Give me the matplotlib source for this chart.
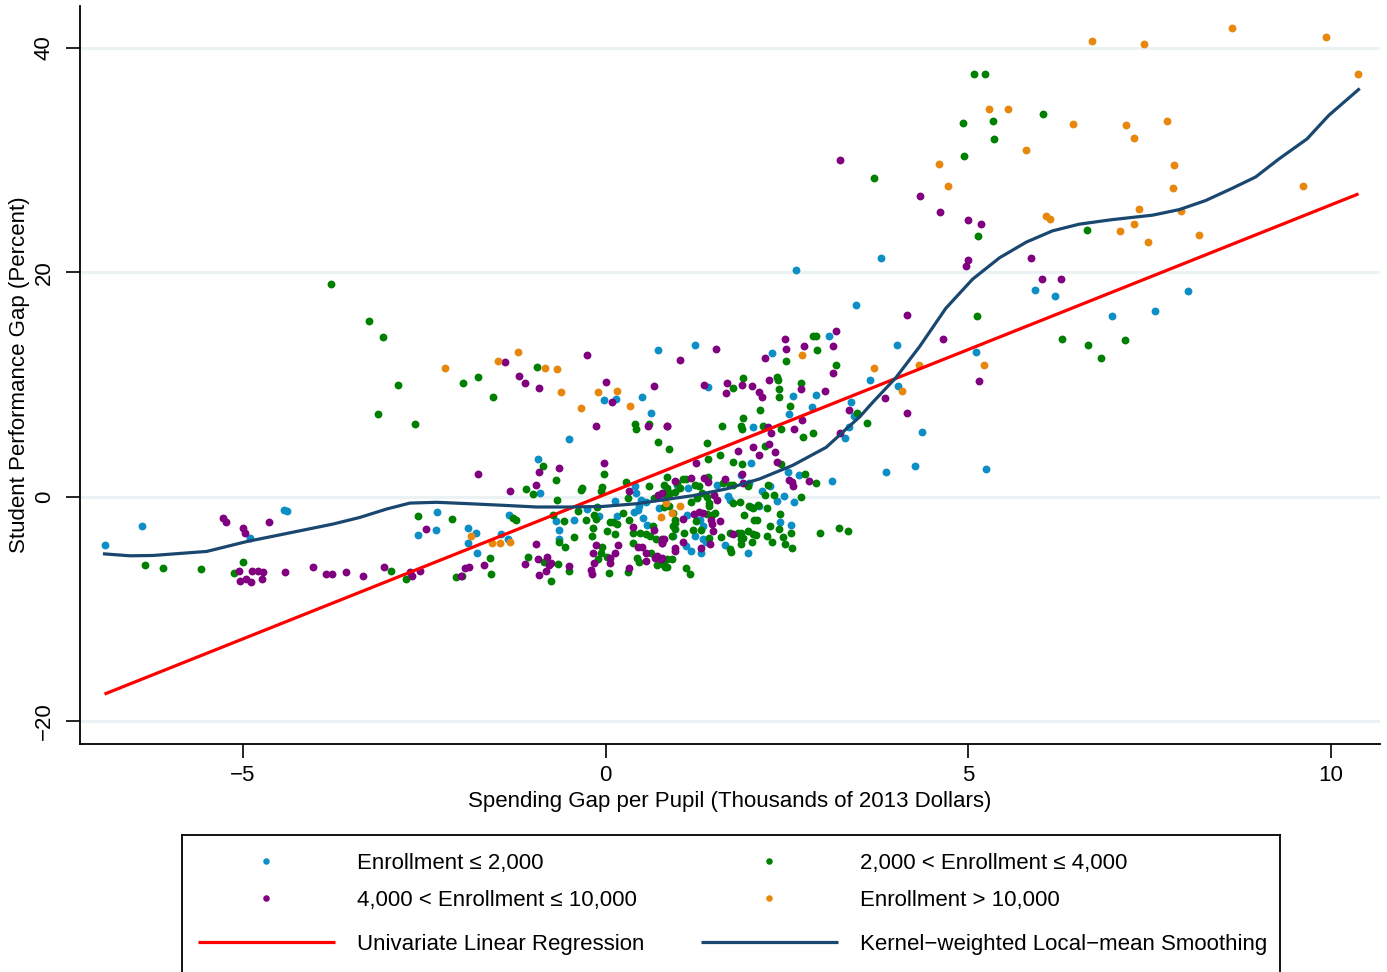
import matplotlib
matplotlib.use("Agg")
import matplotlib.pyplot as plt
import numpy as np

plt.rcParams['font.family'] = ['Liberation Sans', 'DejaVu Sans']

# ---------------- data ----------------
blue_pts = [(-6.91,-4.3),(-6.39,-2.65),(-4.91,-3.66),(-4.44,-1.16),(-4.40,-1.3),(-2.59,-3.4),(-2.32,-1.4),
 (-2.34,-3.0),(-1.90,-2.8),(-1.79,-3.2),(-1.90,-4.1),(-1.77,-5.0),(0.72,13.1),(-0.03,8.66),(0.14,8.75),
 (0.50,8.9),(0.62,7.5),(-0.51,5.1),(-0.94,3.4),(-0.90,0.33),(-1.33,-1.67),(-0.69,-2.2),(-0.64,-3.0),
 (-0.65,-3.8),(-0.43,-2.05),(-0.26,-1.1),(-0.09,-1.76),(-1.44,-3.3),(-1.34,-3.75),(0.13,-0.42),(0.15,-1.76),
 (0.41,0.92),(0.42,0.3),(0.49,-0.3),(0.46,-0.8),(0.55,-0.5),(0.44,-1.2),(0.52,-1.9),(0.57,-2.5),(0.39,-1.4),
 (0.80,-0.1),(0.74,-1.0),(3.08,14.3),(2.29,12.8),(1.23,13.5),(1.41,9.8),(2.58,8.96),(2.90,9.1),(2.85,8.0),
 (3.38,8.4),(3.43,7.2),(2.53,7.4),(2.03,6.2),(3.30,5.27),(2.01,3.0),(2.52,2.2),(2.66,1.9),(3.12,1.37),
 (2.59,-0.45),(2.46,0.03),(2.36,-0.42),(2.27,0.92),(2.16,0.48),(2.40,-2.3),(2.56,-2.5),(1.96,-5.0),
 (2.0,-0.95),(2.12,-0.87),(1.87,1.96),(1.97,1.19),(1.53,1.0),(1.68,0.03),(1.72,-0.27),(0.98,1.0),(1.13,0.77),
 (1.26,-2.05),(1.30,-2.1),(1.34,-2.65),(1.12,-1.6),(0.93,-3.5),(1.23,-3.5),(1.34,-3.8),(1.38,-4.0),
 (1.64,-4.3),(1.32,-5.0),(1.17,-4.8),(1.11,-4.4),(3.80,21.3),(2.63,20.2),(5.92,18.4),(6.19,17.9),
 (3.45,17.1),(4.02,13.5),(5.10,12.9),(3.64,10.4),(4.03,9.9),(4.36,5.8),(4.26,2.75),(3.87,2.2),(5.25,2.5),
 (3.36,6.2),(8.03,18.3),(7.58,16.6),(6.98,16.1)]

green_pts = [(-3.79,19.0),(-3.27,15.7),(-3.07,14.2),(-2.87,10.0),(-1.97,10.1),(-1.76,10.7),(-3.14,7.4),
 (-2.63,6.5),(-6.35,-6.1),(-6.11,-6.4),(-5.58,-6.46),(-5.0,-5.8),(-5.12,-6.8),(-2.96,-6.6),(-2.76,-7.3),
 (-2.59,-1.76),(-2.12,-2.0),(-2.06,-7.2),(-1.98,-7.05),(-1.56,8.9),(-0.95,11.6),(0.40,6.45),(0.42,6.05),
 (0.6,6.5),(0.72,4.9),(0.87,4.26),(-0.87,2.7),(-0.02,2.0),(-0.69,1.5),(-1.10,0.65),(-1.0,0.2),(-0.33,0.8),
 (-0.34,0.6),(-0.05,0.83),(-0.07,0.48),(-0.67,-0.3),(-1.28,-1.9),(-1.23,-2.1),(-0.73,-1.67),(-0.57,-2.2),
 (-0.64,-4.0),(-0.56,-4.5),(-0.43,-3.6),(-0.38,-1.3),(-0.27,-2.05),(-0.12,-0.92),(-0.16,-1.6),(-0.13,-2.0),
 (-1.59,-5.5),(-1.58,-6.9),(-1.07,-5.4),(-0.85,-5.8),(-0.66,-6.0),(-0.75,-7.5),(-0.50,-6.6),(-0.18,-2.8),
 (-0.19,-3.5),(-0.06,-5.0),(0.02,-5.4),(-0.11,-5.6),(-0.05,-4.5),(0.02,-3.1),(0.13,-3.3),(0.06,-2.3),
 (0.10,-2.3),(0.15,-2.4),(0.05,-6.8),(0.24,-1.46),(0.31,-0.1),(0.28,1.28),(0.32,-2.05),(0.38,-3.2),
 (0.47,-3.2),(0.55,-3.3),(0.43,-5.5),(0.46,-5.8),(0.38,-4.1),(0.31,-6.7),(0.65,-2.65),(0.61,-3.5),
 (0.70,-3.8),(0.63,-5.0),(0.71,-6.1),(0.82,-6.3),(0.84,-5.6),(0.60,0.92),(0.67,-0.12),(0.81,1.07),
 (0.85,1.8),(0.84,0.03),(2.86,14.3),(2.90,14.3),(2.92,13.1),(2.49,12.1),(3.18,11.7),(2.36,10.7),
 (2.37,10.4),(1.89,10.6),(1.75,9.7),(2.39,9.6),(2.39,8.9),(2.69,10.15),(2.54,8.1),(3.46,7.5),(2.13,7.7),
 (1.90,7.05),(1.60,6.3),(1.86,6.3),(1.88,6.0),(2.17,6.3),(2.42,6.0),(2.72,5.3),(2.86,5.65),(1.39,4.8),
 (1.57,3.7),(2.19,4.5),(2.42,2.9),(1.75,3.1),(1.88,2.9),(1.41,3.4),(2.75,2.05),(2.90,1.2),(2.69,-0.06),
 (2.32,0.18),(2.19,0.18),(2.24,1.04),(2.10,-0.78),(2.22,-1.04),(2.03,-1.0),(1.98,-0.8),(2.40,-1.55),
 (2.39,-2.9),(2.56,-3.2),(2.26,-2.6),(2.44,-3.6),(2.47,-4.2),(2.57,-4.6),(2.22,-3.5),(2.29,-4.0),
 (2.04,-2.05),(2.08,-2.05),(1.96,-3.1),(2.03,-3.3),(2.07,-3.4),(2.02,-4.0),(1.86,-3.8),(1.87,-3.25),
 (1.91,-1.6),(1.85,-0.5),(1.75,-0.6),(2.95,-3.2),(3.21,-2.8),(3.34,-3.1),(1.96,0.92),(1.72,1.0),
 (1.76,1.0),(1.62,1.2),(1.41,1.8),(1.28,0.92),(1.23,1.07),(1.11,1.58),(1.07,1.6),(0.98,1.2),(1.03,0.74),
 (0.95,0.45),(0.88,0.33),(0.84,0.77),(0.81,0.33),(1.18,-0.45),(1.26,-0.12),(1.39,-0.03),(1.43,-0.57),
 (1.33,0.33),(0.80,-0.96),(0.87,-0.87),(0.93,-1.46),(0.96,-2.05),(0.93,-2.65),(0.95,-2.35),(1.39,-1.5),
 (1.46,-1.6),(1.43,-0.87),(1.51,-1.46),(1.25,-2.2),(1.32,-2.95),(1.20,-2.95),(1.08,-3.25),(0.95,-2.9),
 (0.92,-3.5),(1.43,-3.7),(1.59,-3.6),(1.72,-3.25),(1.83,-3.25),(1.89,-3.7),(1.86,-4.2),(1.72,-4.7),
 (1.73,-4.9),(0.91,-5.6),(0.81,-6.1),(0.84,-6.3),(0.77,-5.9),(1.11,-6.4),(1.16,-6.9),(3.70,28.4),
 (4.94,30.4),(4.92,33.3),(5.35,31.9),(5.14,23.2),(6.29,14.1),(5.12,16.1),(3.60,6.6),(5.08,37.7),(5.23,37.7),
 (5.34,33.5),(6.03,34.1),(6.63,23.8),(6.65,13.5),(6.83,12.4),(7.16,14.0)]

purple_pts = [(-1.76,2.0),(-5.28,-1.9),(-5.24,-2.26),(-5.0,-2.8),(-4.97,-3.2),(-4.64,-2.3),(-5.06,-6.6),
 (-5.04,-7.5),(-4.96,-7.3),(-4.89,-7.6),(-4.87,-6.6),(-4.79,-6.6),(-4.73,-6.7),(-4.74,-7.3),(-4.42,-6.67),
 (-4.04,-6.3),(-3.86,-6.9),(-3.77,-6.9),(-3.58,-6.67),(-3.35,-7.05),(-3.05,-6.3),(-2.70,-6.67),
 (-2.67,-7.05),(-2.56,-6.6),(-2.48,-2.9),(-1.94,-6.4),(-1.88,-6.3),(-2.0,-7.1),(-1.39,12.05),(-1.19,10.8),
 (-1.11,10.1),(-0.92,9.7),(-0.26,12.6),(0.01,10.2),(0.09,8.4),(0.67,9.9),(-0.13,6.3),(0.58,6.3),(0.84,6.3),
 (-0.64,2.56),(-0.92,2.2),(-0.02,3.0),(-0.96,1.07),(-1.32,0.5),(-0.96,-4.2),(-1.68,-6.1),(-1.11,-6.0),
 (-0.93,-5.6),(-0.81,-5.4),(-0.76,-5.9),(-0.78,-6.1),(-0.82,-6.6),(-0.92,-7.0),(-0.50,-6.2),(-0.2,-6.5),
 (-0.19,-6.9),(-0.17,-5.0),(-0.14,-4.35),(-0.16,-5.9),(0.06,-5.5),(0.13,-5.0),(0.17,-4.3),(0.06,-5.9),
 (0.32,0.48),(0.37,-2.7),(0.44,-4.5),(0.50,-4.5),(0.55,-5.0),(0.32,-6.4),(0.55,-5.7),(0.67,-3.0),
 (0.77,-3.8),(0.78,-4.1),(0.71,-5.3),(0.76,-5.6),(0.68,-5.5),(0.72,0.18),(0.77,0.33),(2.47,14.1),
 (3.17,14.8),(2.49,13.2),(2.73,13.4),(3.14,13.4),(2.19,12.4),(1.52,13.2),(1.02,12.2),(3.14,11.0),
 (1.35,10.0),(1.67,10.15),(1.66,9.26),(1.88,10.0),(2.02,9.9),(2.25,10.4),(2.69,9.6),(2.12,9.3),(2.15,8.9),
 (3.03,9.4),(3.35,7.7),(2.71,6.8),(2.24,6.2),(2.28,5.7),(2.60,6.0),(3.23,5.65),(0.85,6.3),(1.83,4.1),
 (2.03,4.4),(2.11,3.75),(2.25,4.7),(2.33,3.95),(2.36,3.1),(1.25,3.0),(2.53,1.5),(2.57,1.28),(2.58,0.92),
 (2.80,1.37),(1.89,1.2),(1.88,2.05),(1.65,1.6),(1.54,-0.33),(1.49,0.18),(1.41,1.3),(1.35,1.67),(1.18,1.67),
 (0.95,1.37),(1.06,-2.0),(1.22,-1.5),(1.29,-1.4),(1.34,-1.46),(1.45,-2.05),(1.47,-2.4),(1.57,-2.2),
 (1.48,-3.1),(1.75,-3.3),(1.44,-4.2),(1.31,-4.55),(1.06,-4.0),(0.95,-4.6),(0.95,-4.8),(0.80,-3.8),
 (0.78,-4.1),(0.77,-5.5),(3.23,30.0),(4.33,26.8),(4.61,25.4),(5.0,24.7),(5.17,24.3),(4.99,21.1),
 (4.97,20.6),(5.87,21.3),(6.01,19.4),(6.28,19.4),(4.15,16.2),(4.65,14.1),(5.15,10.3),(3.85,8.8),(4.16,7.5)]

orange_pts = [(-2.21,11.5),(-1.86,-3.5),(-1.21,12.9),(-1.49,12.1),(-0.84,11.5),(-0.67,11.4),(-0.61,9.3),
 (-0.11,9.35),(0.16,9.4),(-0.34,7.9),(0.34,8.1),(-1.57,-4.1),(-1.46,-4.1),(-1.32,-4.05),(0.83,-0.57),
 (1.02,-0.8),(0.92,-1.46),(0.76,-1.8),(2.71,12.65),(4.59,29.7),(4.72,27.7),(5.79,30.9),(6.07,25.0),
 (6.13,24.8),(5.21,11.7),(3.70,11.5),(4.32,11.7),(4.08,9.4),(6.71,40.6),(7.42,40.4),(8.64,41.75),
 (9.93,41.0),(10.37,37.7),(5.29,34.6),(5.55,34.6),(6.44,33.2),(7.17,33.1),(7.28,32.0),(7.74,33.5),
 (7.83,29.55),(7.82,27.5),(9.62,27.7),(7.36,25.65),(7.93,25.5),(7.09,23.7),(7.28,24.3),(7.48,22.7),
 (8.18,23.3)]

reg_x = [-6.91, 10.38]
reg_y = [-17.6, 27.0]

kern_x = [-6.91,-6.56,-6.24,-5.5,-4.95,-4.49,-3.76,-3.39,-3.02,-2.70,-2.33,-1.87,-1.41,-0.95,-0.50,-0.04,
          0.42,0.88,1.20,1.66,2.12,2.58,3.04,3.31,3.50,3.68,4.0,4.33,4.69,5.06,5.43,5.80,6.16,6.53,6.98,
          7.54,7.91,8.27,8.64,8.96,9.28,9.67,9.97,10.38]
kern_y = [-5.1,-5.27,-5.24,-4.88,-4.0,-3.4,-2.44,-1.85,-1.1,-0.57,-0.5,-0.63,-0.77,-0.92,-0.92,-0.87,
          -0.63,-0.2,0.09,0.69,1.58,2.8,4.4,6.0,7.1,8.4,10.6,13.4,16.8,19.4,21.3,22.7,23.7,24.3,24.7,
          25.1,25.6,26.4,27.5,28.5,30.1,31.9,34.0,36.3]

x_ticks = [-5, 0, 5, 10]
y_ticks = [-20, 0, 20, 40]

series_labels = ["Enrollment \u2264 2,000", "2,000 < Enrollment \u2264 4,000",
                 "4,000 < Enrollment \u2264 10,000", "Enrollment > 10,000"]
line_labels = ["Univariate Linear Regression", "Kernel\u2212weighted Local\u2212mean Smoothing"]

C_BLUE = "#0c8ec6"
C_GREEN = "#008000"
C_PURPLE = "#800080"
C_ORANGE = "#e8870e"
C_RED = "#ff0000"
C_NAVY = "#1a476f"

FS = 16

# ---------------- figure ----------------
W, H = 1387, 972
fig = plt.figure(figsize=(W/100, H/100), dpi=100)
ax = fig.add_axes([80/W, 1-744/H, 1300/W, (744-6)/H])
ax.set_xlim(-7.248, 10.676)
ax.set_ylim(-22.05, 43.75)

for yt in y_ticks:
    ax.axhline(yt, color="#eaf2f3", lw=2.2, zorder=0)

ms = 32
for pts, col in [(blue_pts, C_BLUE), (green_pts, C_GREEN), (purple_pts, C_PURPLE), (orange_pts, C_ORANGE)]:
    a = np.array(pts)
    ax.scatter(a[:, 0], a[:, 1], s=ms, color=col, linewidths=0, zorder=3)

ax.plot(reg_x, reg_y, color=C_RED, lw=2.3, zorder=4, solid_capstyle='butt')
ax.plot(kern_x, kern_y, color=C_NAVY, lw=2.3, zorder=4)

for s in ["top", "right"]:
    ax.spines[s].set_visible(False)
for s in ["left", "bottom"]:
    ax.spines[s].set_linewidth(1.3)
ax.set_xticks(x_ticks)
ax.set_yticks(y_ticks)
ax.set_xticklabels([str(v).replace("-", "\u2212") for v in x_ticks])
ax.set_yticklabels([str(v).replace("-", "\u2212") for v in y_ticks], rotation=90, va="center")
ax.tick_params(axis="both", direction="out", length=10, width=1.2, labelsize=FS)
ax.tick_params(axis="x", pad=5)
ax.tick_params(axis="y", pad=8)
ax.set_xlabel("Spending Gap per Pupil (Thousands of 2013 Dollars)", fontsize=FS, labelpad=3.5)
ax.set_ylabel("Student Performance Gap (Percent)", fontsize=FS, labelpad=3)

# ---------------- legend ----------------
lx0, lx1, ly0 = 182, 1280, 835
lax = fig.add_axes([lx0/W, -0.05, (lx1-lx0)/W, (H-ly0)/H + 0.05])
lax.set_xlim(lx0, lx1)
lax.set_ylim(H + 0.05*H, ly0)
lax.set_xticks([]); lax.set_yticks([])
for s in lax.spines.values():
    s.set_linewidth(1.3)

mk_cols = [C_BLUE, C_GREEN, C_PURPLE, C_ORANGE]
mk_pos = [(266, 861), (769, 861), (266, 898), (769, 898)]
txt_pos = [(357, 863), (860, 863), (357, 900), (860, 900)]
for (mx, my), col in zip(mk_pos, mk_cols):
    lax.scatter([mx], [my], s=22, color=col, linewidths=0)
for (tx, ty), lab in zip(txt_pos, series_labels):
    lax.text(tx, ty, lab, fontsize=FS, va="center", ha="left")
lax.plot([198, 335], [942, 942], color=C_RED, lw=2.3, solid_capstyle='butt')
lax.plot([701, 838], [942, 942], color=C_NAVY, lw=2.3, solid_capstyle='butt')
lax.text(357, 944, line_labels[0], fontsize=FS, va="center", ha="left")
lax.text(860, 944, line_labels[1], fontsize=FS, va="center", ha="left")

fig.savefig("out.png", dpi=100)
